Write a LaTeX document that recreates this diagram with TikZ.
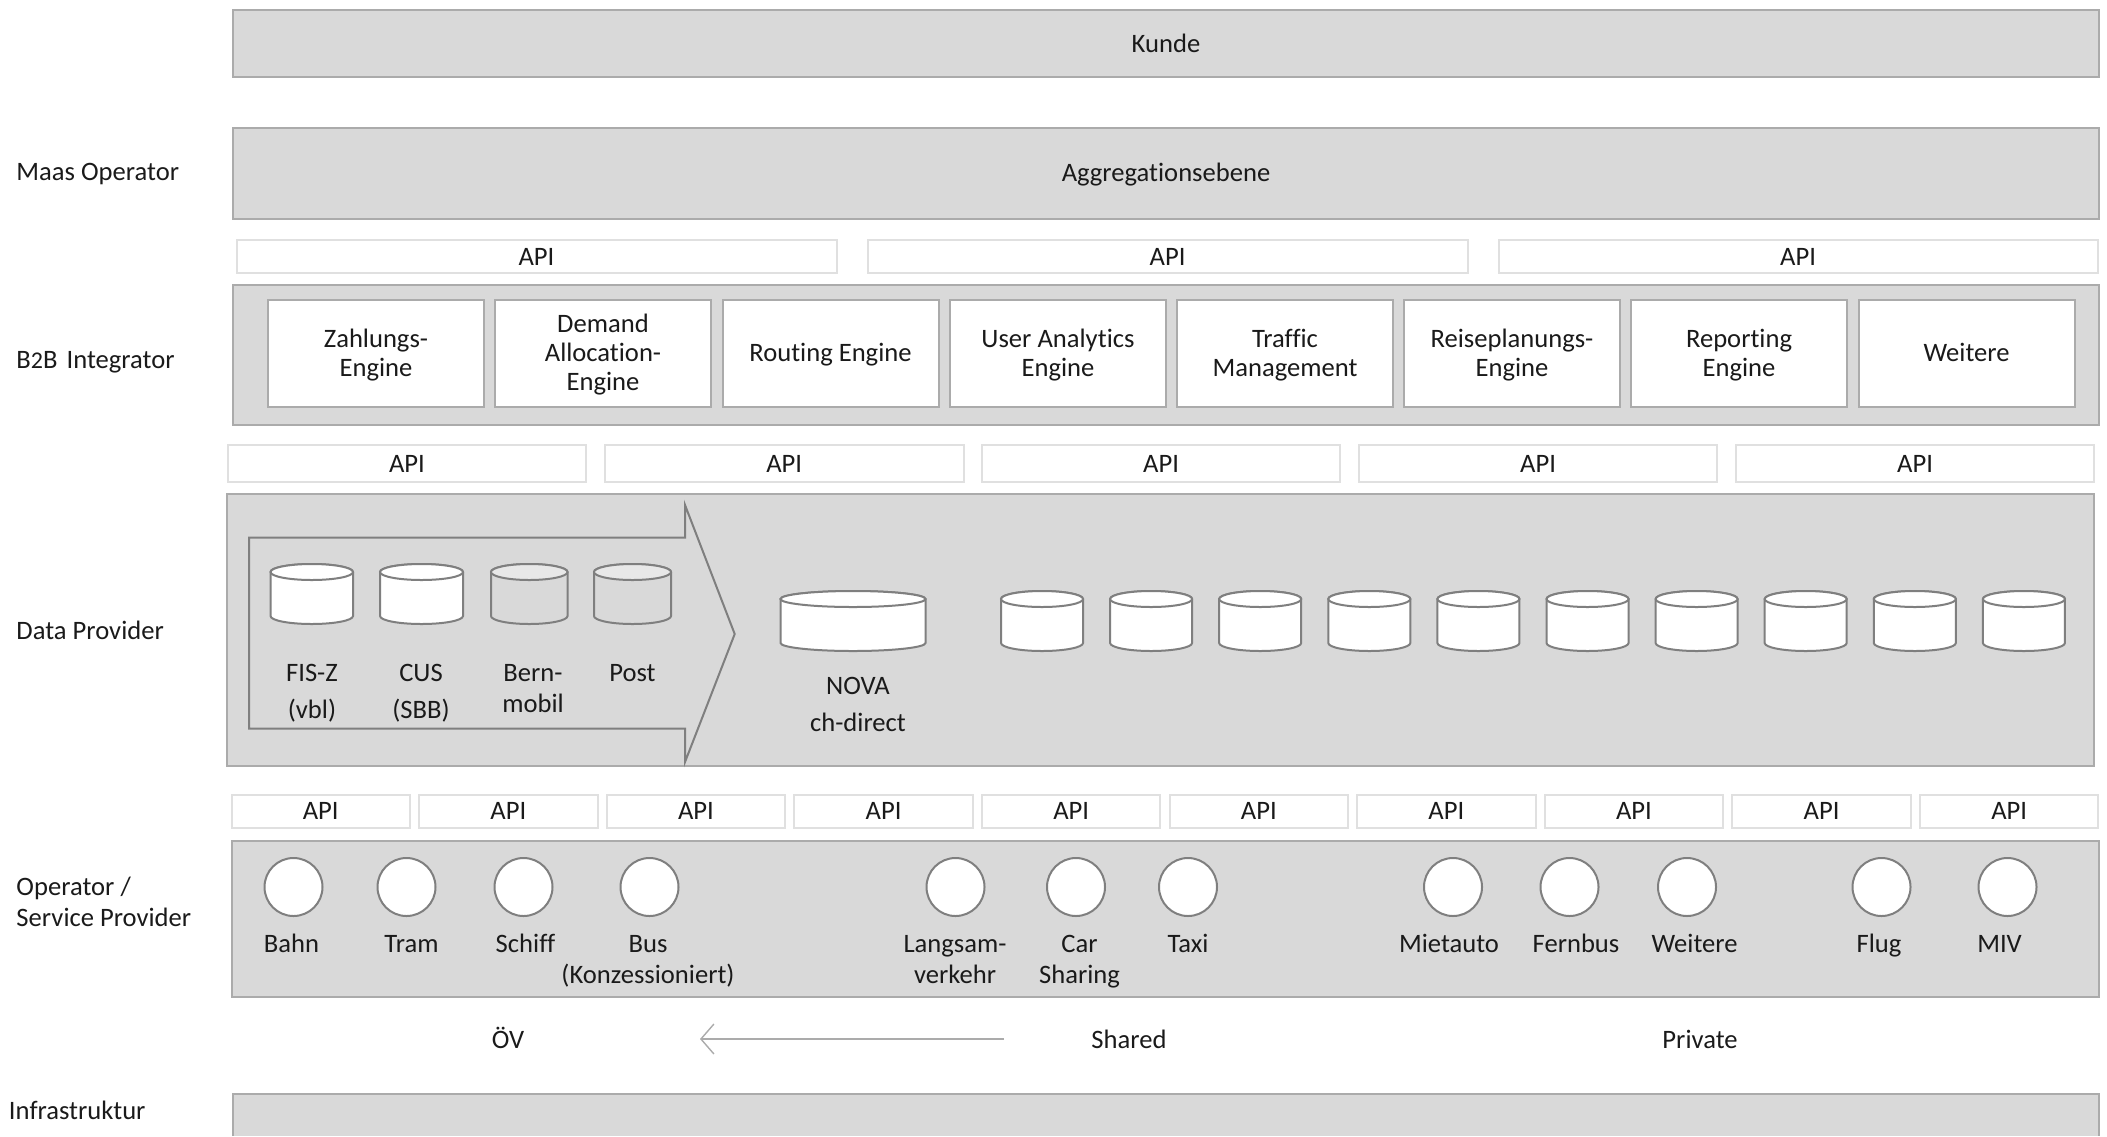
\documentclass[tikz,border=0pt]{standalone}
\usepackage{fontspec}
\setmainfont[Ligatures=NoCommon]{Carlito}
\usetikzlibrary{arrows.meta}
\definecolor{panelfill}{HTML}{D9D9D9}
\definecolor{panelline}{HTML}{ABABAB}
\definecolor{apiline}{HTML}{E0E0E0}
\definecolor{cylline}{HTML}{7F7F7F}
\definecolor{cyltop}{HTML}{E8E8E8}
\definecolor{txt}{HTML}{1A1A1A}
\tikzset{
  panel/.style={draw=panelline,fill=panelfill,line width=1pt},
  apibox/.style={draw=apiline,fill=white,line width=1pt},
  enginebox/.style={draw=panelline,fill=white,line width=1pt},
  lbl/.style={font=\fontsize{13.3}{14.5}\selectfont,text=txt,inner sep=0pt,outer sep=0pt},
  ttl/.style={lbl,anchor=base},
  lft/.style={lbl,anchor=base west},
  cyl/.style={draw=cylline,fill=white,line width=1pt},
  cylgrey/.style={draw=cylline,fill=panelfill,line width=1pt},
  cyllid/.style={draw=cylline,fill=cyltop,line width=1pt},
  circ/.style={circle,draw=cylline,fill=white,line width=1pt,minimum size=29pt,inner sep=0pt},
}
% box with text: name, x1, y1, x2, y2, style, text
\newcommand{\bx}[7]{%
  \pgfmathsetmacro{\bxw}{(#4-#2)*0.5}\pgfmathsetmacro{\bxh}{(#5-#3)*0.5}%
  \node[#6,lbl,minimum width=\bxw pt,minimum height=\bxh pt,align=center,inner sep=0pt,anchor=north west] (#1) at (#2,#3) {#7};}
% engine box with its label: name, x1, x2, text
\newcommand{\eng}[4]{%
  \bx{#1}{#2}{300}{#3}{407}{enginebox}{}%
  \pgfmathsetmacro{\ex}{(#2+#3)/2}%
  \node[lbl,align=center] (#1t) at (\ex,354.8) {#4};}
% cylinder: x1, y1, x2, y2, body style, lid style
\newcommand{\cyl}[6]{%
  \pgfmathsetmacro{\cm}{(#1+#3)/2}\pgfmathsetmacro{\cr}{(#3-#1)/2}%
  \pgfmathsetmacro{\ctop}{#2+8}\pgfmathsetmacro{\cbot}{#4-8}%
  \path[#5] (#1,\ctop) -- (#1,\cbot) arc[start angle=180,end angle=360,x radius=\cr,y radius=-8]
     -- (#3,\ctop) arc[start angle=0,end angle=180,x radius=\cr,y radius=-8] -- cycle;
  \path[#6] (\cm,\ctop) ellipse[x radius=\cr,y radius=8];}
\newcommand{\lb}[4]{\node[ttl] (#1) at (#2,#3) {#4};}
\begin{document}
\begin{tikzpicture}[x=0.5pt,y=-0.5pt]
\useasboundingbox (0,0) rectangle (2107,1136);
% layers
\bx{kunde}{232.5}{9.5}{2099}{77}{panel}{}
\lb{kundet}{1166}{52}{Kunde}
\bx{agg}{232.5}{128}{2099}{218.5}{panel}{}
\lb{aggt}{1166}{181}{Aggregationsebene}
% top API
\bx{apiA}{237}{239.5}{836.5}{272.5}{apibox}{}
\bx{apiB}{868}{239.5}{1467.5}{272.5}{apibox}{}
\bx{apiC}{1498.5}{239.5}{2098}{272.5}{apibox}{}
\lb{apiAt}{536.5}{265}{API}
\lb{apiBt}{1167.5}{265}{API}
\lb{apiCt}{1798}{265}{API}
% B2B
\bx{btb}{232.5}{284.5}{2099}{425}{panel}{}
\eng{e1}{268}{484}{Zahlungs-\\Engine}
\eng{e2}{495}{711}{Demand\\Allocation-\\Engine}
\eng{e3}{722.5}{938.5}{Routing Engine}
\eng{e4}{950}{1166}{User Analytics\\Engine}
\eng{e5}{1177}{1393}{Traffic\\Management}
\eng{e6}{1404}{1620}{Reiseplanungs-\\Engine}
\eng{e7}{1631}{1847}{Reporting\\Engine}
\eng{e8}{1858.5}{2074.5}{Weitere\vphantom{g}}
% middle API
\bx{apiD}{228}{445}{586}{482}{apibox}{API}
\bx{apiE}{605}{445}{963.5}{482}{apibox}{API}
\bx{apiF}{982}{445}{1340}{482}{apibox}{API}
\bx{apiG}{1359}{445}{1717}{482}{apibox}{API}
\bx{apiH}{1736}{445}{2094}{482}{apibox}{API}
% data provider
\bx{data}{226.5}{494}{2093.5}{765.5}{panel}{}
\draw[draw=cylline,fill=panelfill,line width=1pt,line join=miter]
  (249,537.7) -- (685,537.7) -- (685,505) -- (734.7,634) -- (685,762) -- (685,728.7) -- (249,728.7) -- cycle;
\cyl{270.5}{564}{353}{624}{cyl}{cyl}
\cyl{380}{564}{463}{624}{cyl}{cyl}
\cyl{491}{564}{567.5}{624}{cylgrey}{cyllid}
\cyl{594}{564}{671}{624}{cylgrey}{cyllid}
\cyl{780.5}{591}{925.5}{651}{cyl}{cyl}
\foreach \i in {0,...,9}{
  \pgfmathsetmacro{\xa}{1001+\i*109.1}\pgfmathsetmacro{\xb}{\xa+82}
  \cyl{\xa}{591}{\xb}{651}{cyl}{cyl}
}
\lb{fis}{312}{681}{FIS-Z}
\lb{vbl}{312}{718}{(vbl)}
\lb{cus}{421}{681}{CUS}
\lb{sbb}{421}{718}{(SBB)}
\lb{bern}{533}{681}{Bern-}
\lb{mobil}{533}{712}{mobil}
\lb{post}{632.5}{681}{Post}
\lb{nova}{858}{694}{NOVA}
\lb{chd}{858}{731}{ch-direct}
% lower API
\foreach \i in {0,...,9}{
  \pgfmathsetmacro{\xa}{231.5+\i*187.6}\pgfmathsetmacro{\xb}{\xa+178.5}
  \bx{api\i}{\xa}{794.5}{\xb}{827.5}{apibox}{API}
}
% operators
\bx{oper}{231.5}{841}{2099}{997}{panel}{}
\foreach \n/\cx in {a/293.5,b/406.5,c/523.5,d/649.5,e/955.5,f/1076,g/1188,h/1453,i/1569.5,j/1687,k/1881.5,l/2007.5}{
  \node[circ] (c\n) at (\cx,887) {};
}
\lb{bahn}{291.5}{952}{Bahn}
\lb{tram}{411.5}{952}{Tram}
\lb{schiff}{525.5}{952}{Schiff}
\lb{bus}{648}{952}{Bus}
\lb{konz}{648}{983}{(Konzessioniert)}
\lb{lang}{955}{952}{Langsam-}
\lb{verk}{955}{983}{verkehr}
\lb{car}{1079.5}{952}{Car}
\lb{shar}{1079.5}{983}{Sharing}
\lb{taxi}{1188}{952}{Taxi}
\lb{miet}{1449}{952}{Mietauto}
\lb{fern}{1576}{952}{Fernbus}
\lb{weit}{1694.5}{952}{Weitere}
\lb{flug}{1879}{952}{Flug}
\lb{miv}{1999.5}{952}{MIV}
% categories
\lb{oev}{508}{1048}{ÖV}
\lb{shared}{1129}{1048}{Shared}
\lb{priv}{1700}{1048}{Private}
\coordinate (arrowstart) at (1004,1039);
\coordinate (arrowend) at (700,1039);
\draw[draw=panelline,line width=1pt,-{Straight Barb[length=6.5pt,width=15pt,line width=0.7pt]}] (arrowstart) -- (arrowend);
% infrastructure
\fill[panelfill] (232.5,1094) rectangle (2099,1136);
\path[draw=panelline,line width=1pt] (232.5,1136) -- (232.5,1094) -- (2099,1094) -- (2099,1136);
% row labels
\node[lft] (lmaas) at (16.5,180) {Maas Operator};
\node[lft] (lb2b) at (16.5,368) {B{\fontsize{12}{12}\selectfont 2}B\hspace{1.5pt} Integrator};
\node[lft] (ldata) at (16.5,639) {Data Provider};
\node[lft] (lop) at (16.5,895) {Operator /};
\node[lft] (lsp) at (16.5,926) {Service Provider};
\node[lft] (linf) at (9,1119) {Infrastruktur};
\end{tikzpicture}
\end{document}
